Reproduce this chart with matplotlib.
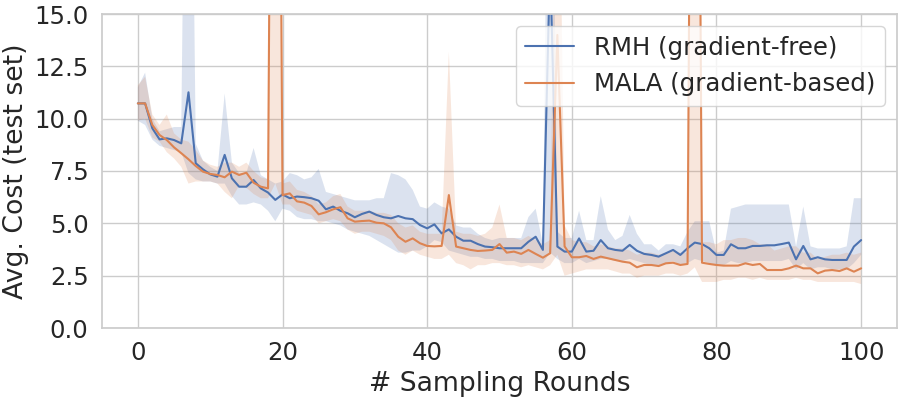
import numpy as np
import matplotlib
matplotlib.use("Agg")
import matplotlib.pyplot as plt
import seaborn as sns
from matplotlib.ticker import MultipleLocator

# sampling rounds 0..100
rounds = list(range(101))

# RMH (gradient-free): mean and CI band
rmh_mean = [10.73, 10.73, 9.54, 9.01, 9.06, 8.98, 8.82, 11.26, 7.87, 7.58,
            7.34, 7.23, 8.27, 7.15, 6.75, 6.75, 7.07, 6.67, 6.47, 6.12,
            6.38, 6.2, 6.28, 6.25, 6.2, 6.08, 5.67, 5.8, 5.6, 5.48,
            5.29, 5.45, 5.56, 5.4, 5.29, 5.24, 5.35, 5.24, 5.2, 4.92,
            4.76, 4.95, 4.52, 4.71, 4.36, 4.17, 4.17, 4.01, 3.89, 3.86,
            3.81, 3.81, 3.81, 3.81, 4.12, 4.36, 3.73, 17.5, 3.89, 3.65,
            3.65, 4.28, 3.65, 3.69, 4.2, 3.81, 3.73, 3.69, 3.97, 3.69,
            3.54, 3.49, 3.41, 3.57, 3.73, 3.49, 3.81, 4.08, 4.01, 3.81,
            3.49, 3.49, 4.0, 3.81, 3.81, 3.92, 3.92, 3.95, 3.95, 4.01,
            4.08, 3.28, 3.92, 3.28, 3.38, 3.28, 3.25, 3.25, 3.25, 3.89,
            4.2]
rmh_lo = [9.9, 9.7, 9.0, 8.7, 8.6, 8.5, 8.4, 7.4, 7.1, 7.0,
          7.0, 6.9, 6.9, 6.3, 5.9, 5.9, 6.0, 5.9, 5.6, 5.1,
          5.7, 5.6, 5.3, 5.2, 5.2, 5.1, 5.1, 5.0, 4.9, 4.7,
          4.6, 4.5, 4.4, 4.2, 4.0, 3.8, 3.6, 3.6, 3.7, 3.7,
          3.9, 4.2, 4.1, 3.7, 3.6, 3.5, 3.4, 3.4, 3.3, 3.3,
          3.2, 3.2, 3.2, 3.1, 3.1, 3.1, 3.1, 3.6, 3.3, 3.1,
          3.1, 3.3, 3.1, 3.2, 3.3, 3.3, 3.2, 3.2, 3.3, 3.2,
          3.1, 3.0, 3.0, 3.1, 3.2, 3.0, 3.1, 3.3, 3.2, 3.1,
          3.0, 3.0, 3.2, 3.1, 3.1, 3.2, 3.2, 3.2, 3.2, 3.2,
          3.3, 2.8, 3.1, 2.8, 2.9, 2.9, 2.8, 2.8, 2.8, 3.1,
          3.5]
rmh_hi = [11.5, 12.2, 10.0, 9.4, 9.5, 9.6, 9.6, 40.0, 8.8, 8.0,
          7.7, 7.5, 11.2, 7.9, 7.4, 7.4, 8.6, 7.3, 7.1, 6.9,
          7.0, 7.4, 7.3, 7.1, 7.2, 7.6, 6.5, 6.4, 6.3, 6.2,
          6.1, 6.1, 6.1, 6.2, 6.2, 7.4, 7.3, 7.1, 6.6, 5.8,
          5.7, 6.0, 5.8, 5.7, 4.9, 4.8, 4.8, 4.5, 4.3, 4.2,
          4.3, 4.3, 4.3, 4.3, 5.3, 5.7, 4.0, 35.0, 4.6, 4.3,
          4.3, 5.6, 4.2, 4.2, 6.3, 4.7, 4.2, 4.4, 5.4, 4.5,
          4.0, 4.0, 3.7, 4.0, 4.0, 3.9, 4.6, 5.1, 5.1, 5.1,
          3.6, 3.7, 5.7, 5.8, 5.9, 5.9, 5.9, 5.9, 5.9, 5.9,
          5.9, 3.9, 5.8, 3.9, 3.8, 3.8, 3.8, 3.8, 3.9, 6.2,
          6.2]

# MALA (gradient-based): mean and CI band
mala_mean = [10.73, 10.73, 9.7, 9.22, 8.98, 8.63, 8.35, 8.06, 7.74, 7.47,
             7.36, 7.31, 7.2, 7.47, 7.31, 7.42, 6.94, 6.75, 6.67, 60.0,
             6.35, 6.43, 6.05, 5.99, 5.83, 5.43, 5.53, 5.67, 5.77, 5.24,
             5.08, 5.11, 5.13, 5.03, 5.0, 4.81, 4.36, 4.12, 4.28, 4.05,
             3.92, 3.9, 3.92, 6.35, 3.89, 3.81, 3.73, 3.68, 3.7, 3.73,
             4.01, 3.6, 3.65, 3.54, 3.73, 3.54, 3.36, 3.57, 14.0, 3.9,
             3.38, 3.38, 3.44, 3.3, 3.41, 3.33, 3.25, 3.17, 3.12, 2.9,
             3.01, 3.01, 2.96, 3.09, 3.12, 3.01, 3.06, 60.0, 3.12, 3.06,
             3.01, 2.98, 2.98, 2.98, 3.09, 3.01, 3.06, 2.77, 2.77, 2.77,
             2.85, 2.98, 2.85, 2.85, 2.61, 2.74, 2.77, 2.72, 2.85, 2.69,
             2.85]
mala_lo = [9.9, 10.0, 9.1, 8.9, 8.4, 8.1, 7.7, 6.9, 7.0, 7.0,
           7.0, 6.9, 6.5, 6.2, 6.8, 6.7, 6.4, 6.2, 6.2, 6.9,
           5.9, 5.9, 5.6, 5.5, 5.4, 5.0, 5.1, 5.2, 5.1, 4.7,
           4.5, 4.6, 4.6, 4.5, 4.4, 4.2, 3.7, 3.5, 3.7, 3.5,
           3.4, 3.3, 3.3, 3.5, 3.1, 3.0, 2.8, 3.0, 3.0, 3.1,
           3.1, 3.0, 3.0, 2.9, 3.0, 2.9, 2.8, 3.0, 3.5, 2.5,
           2.6, 2.7, 2.8, 2.8, 2.8, 2.8, 2.7, 2.6, 2.6, 2.4,
           2.5, 2.5, 2.5, 2.6, 2.6, 2.5, 2.6, 2.9, 2.2, 2.2,
           2.2, 2.3, 2.3, 2.4, 2.4, 2.3, 2.4, 2.3, 2.3, 2.3,
           2.3, 2.4, 2.3, 2.3, 2.2, 2.2, 2.2, 2.2, 2.2, 2.2,
           2.1]
mala_hi = [11.6, 12.0, 10.2, 9.7, 10.2, 9.3, 9.0, 8.9, 8.5, 8.0,
           7.8, 7.7, 7.9, 7.9, 7.7, 7.9, 7.5, 7.2, 7.1, 80.0,
           6.9, 7.0, 6.6, 6.5, 6.3, 5.9, 6.0, 6.3, 6.4, 5.8,
           5.6, 5.6, 5.6, 5.5, 5.5, 5.4, 5.0, 4.8, 4.9, 4.6,
           4.5, 4.5, 4.5, 13.2, 4.6, 4.5, 4.5, 4.4, 4.5, 4.8,
           5.9, 4.3, 4.3, 4.2, 4.4, 4.2, 4.0, 4.2, 30.0, 4.9,
           4.2, 4.1, 4.1, 3.9, 4.0, 3.9, 3.8, 3.8, 3.7, 3.5,
           3.6, 3.6, 3.5, 3.6, 3.7, 3.6, 3.6, 80.0, 4.1, 4.1,
           4.0, 4.2, 4.2, 4.3, 4.3, 4.2, 4.0, 4.0, 3.7, 3.8,
           3.9, 3.9, 3.6, 3.6, 3.3, 3.4, 3.5, 3.5, 3.6, 3.5,
           3.6]

sns.set_theme(style="whitegrid", font_scale=1.6)
blue, orange = sns.color_palette("deep")[:2]

fig, ax = plt.subplots(figsize=(9, 4), dpi=100)

ax.fill_between(rounds, rmh_lo, rmh_hi, color=blue, alpha=0.2, linewidth=0)
ax.plot(rounds, rmh_mean, color=blue, label='RMH (gradient-free)')
ax.fill_between(rounds, mala_lo, mala_hi, color=orange, alpha=0.2, linewidth=0)
ax.plot(rounds, mala_mean, color=orange, label='MALA (gradient-based)')

ax.set_xlim(-5, 105)
ax.set_ylim(0, 15)
ax.yaxis.set_major_locator(MultipleLocator(2.5))
ax.set_xlabel('# Sampling Rounds')
ax.set_ylabel('Avg. Cost (test set)')
ax.legend(loc='upper right')

plt.subplots_adjust(left=0.113, right=0.997, top=0.965, bottom=0.18)
plt.savefig('out.png')
